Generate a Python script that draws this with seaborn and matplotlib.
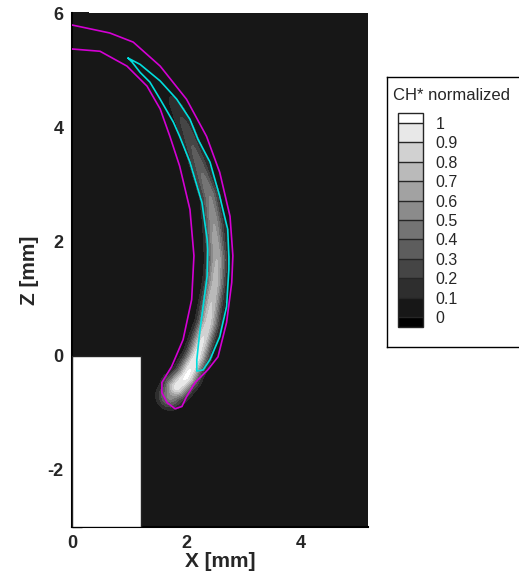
import numpy as np
import matplotlib
matplotlib.use("Agg")
import matplotlib.pyplot as plt
from matplotlib.colors import ListedColormap, BoundaryNorm
from matplotlib.patches import Rectangle
import seaborn as sns

sns.set_style("ticks")
plt.rcParams['font.family'] = ['Liberation Sans', 'DejaVu Sans']
plt.rcParams['axes.unicode_minus'] = False

# flame band centre line (mm), with peak value and width
center_x = [1.72, 1.83, 2.00, 2.18, 2.38, 2.50, 2.53, 2.48, 2.41, 2.20, 2.00, 1.85, 1.68]
center_z = [-0.70, -0.55, -0.37, -0.02, 0.58, 1.28, 1.68, 2.30, 2.79, 3.40, 3.96, 4.30, 4.60]
center_peak = [0.55, 0.95, 1.02, 0.97, 0.85, 0.75, 0.70, 0.60, 0.50, 0.35, 0.25, 0.17, 0.08]
center_width = [0.14, 0.14, 0.13, 0.12, 0.115, 0.11, 0.11, 0.105, 0.10, 0.10, 0.10, 0.10, 0.10]
background = 0.05

# magenta iso-line
magenta_x = [0.00, 0.66, 1.07, 1.54, 2.00, 2.35, 2.58, 2.76, 2.81, 2.79, 2.70, 2.55, 2.37,
             2.15, 2.00, 1.92, 1.80, 1.66, 1.57, 1.57, 1.74, 1.94, 2.09, 2.13, 2.06,
             1.88, 1.71, 1.54, 1.31, 0.96, 0.49, 0.00]
magenta_z = [5.79, 5.65, 5.49, 5.07, 4.49, 3.84, 3.21, 2.44, 1.75, 1.28, 0.58, -0.02, -0.25,
             -0.47, -0.72, -0.89, -0.93, -0.82, -0.65, -0.47, -0.19, 0.28, 0.98, 1.75, 2.56,
             3.32, 3.84, 4.32, 4.72, 5.07, 5.33, 5.37]

# cyan iso-line
cyan_x = [0.98, 1.19, 1.54, 1.83, 2.06, 2.20, 2.41, 2.58, 2.72, 2.74, 2.74, 2.70, 2.58,
          2.41, 2.29, 2.18, 2.18, 2.23, 2.29, 2.36, 2.37, 2.36, 2.27, 2.06, 1.88, 1.77,
          1.54, 1.36, 1.19, 1.05, 0.98]
cyan_z = [5.21, 5.10, 4.81, 4.49, 4.14, 3.79, 3.39, 2.79, 2.21, 1.74, 1.51, 0.86, 0.33,
          -0.07, -0.25, -0.27, -0.07, 0.40, 0.86, 1.39, 1.86, 2.04, 2.68, 3.39, 3.84, 4.09,
          4.49, 4.79, 4.96, 5.14, 5.21]

levels = [0, 0.1, 0.2, 0.3, 0.4, 0.5, 0.6, 0.7, 0.8, 0.9, 1]
level_labels = ["0", "0.1", "0.2", "0.3", "0.4", "0.5", "0.6", "0.7", "0.8", "0.9", "1"]

# build the field on a grid from the centre line
xg = np.linspace(0, 5.17, 400)
zg = np.linspace(-3, 6, 700)
X, Z = np.meshgrid(xg, zg)
field = np.full(X.shape, background)
cx = np.array(center_x); cz = np.array(center_z)
pk = np.array(center_peak); wd = np.array(center_width)
for i in range(len(cx) - 1):
    dx, dz = cx[i + 1] - cx[i], cz[i + 1] - cz[i]
    t = ((X - cx[i]) * dx + (Z - cz[i]) * dz) / (dx * dx + dz * dz)
    t = np.clip(t, 0, 1)
    d2 = (X - cx[i] - t * dx) ** 2 + (Z - cz[i] - t * dz) ** 2
    p = pk[i] + t * (pk[i + 1] - pk[i])
    s = wd[i] + t * (wd[i + 1] - wd[i])
    field = np.maximum(field, p * np.exp(-d2 / (2 * s * s)))

grays = [plt.cm.gray(i / 11) for i in range(12)]
cmap = ListedColormap(grays)
bounds = [-5] + levels + [5]
norm = BoundaryNorm(bounds, cmap.N)

fig = plt.figure(figsize=(5.19, 5.79), dpi=100)
ax = fig.add_axes([72 / 519, 1 - 527 / 579, 296 / 519, 514 / 579])
ax.contourf(X, Z, field, levels=bounds, cmap=cmap, norm=norm)
ax.add_patch(Rectangle((0, -3), 1.2, 3, facecolor='white', edgecolor='#222222', lw=1, zorder=3))
ax.plot(magenta_x, magenta_z, color='#d400d4', lw=1.2, zorder=4)
ax.plot(cyan_x, cyan_z, color='#00dede', lw=1.2, zorder=4)

ax.set_xlim(0, 5.17)
ax.set_ylim(-3, 6)
ax.set_xticks([0, 2, 4])
ax.set_yticks([-2, 0, 2, 4, 6])
ax.set_xticks(np.arange(0, 5.1, 0.5), minor=True)
ax.set_yticks(np.arange(-3, 6.1, 0.5), minor=True)
ax.tick_params(which='major', direction='in', length=12, width=1.3, color='black',
               labelsize=13, pad=6)
ax.tick_params(which='minor', direction='in', length=7, width=1.0, color='black')
for lab in ax.get_xticklabels() + ax.get_yticklabels():
    lab.set_fontweight('bold')
for sp in ['top', 'right']:
    ax.spines[sp].set_visible(False)
for sp in ['left', 'bottom']:
    ax.spines[sp].set_linewidth(1.5)
    ax.spines[sp].set_color('black')
ax.set_xlabel('X [mm]', fontsize=15, fontweight='bold', labelpad=0)
ax.set_ylabel('Z [mm]', fontsize=15, fontweight='bold', labelpad=6)

# legend frame
lax = fig.add_axes([387 / 519, 1 - 347 / 579, 140 / 519, 270 / 579])
lax.set_xticks([]); lax.set_yticks([])
for sp in lax.spines.values():
    sp.set_linewidth(1)
    sp.set_color('black')
fig.text(393 / 519, 1 - 96 / 579, 'CH* normalized', fontsize=12, va='center', ha='left')

cax = fig.add_axes([398 / 519, 1 - 327 / 579, 25 / 519, 214 / 579])
sm = plt.cm.ScalarMappable(cmap=cmap, norm=norm)
cb = fig.colorbar(sm, cax=cax, boundaries=[-0.05] + levels + [1.05],
                  spacing='proportional', ticks=levels, drawedges=True)
cb.ax.set_ylim(-0.05, 1.05)
cb.ax.set_yticklabels(level_labels)
cb.ax.tick_params(length=0, labelsize=11.5, pad=9)
cb.outline.set_linewidth(1)
cb.dividers.set_linewidth(1)

fig.savefig('out.png', dpi=100)
